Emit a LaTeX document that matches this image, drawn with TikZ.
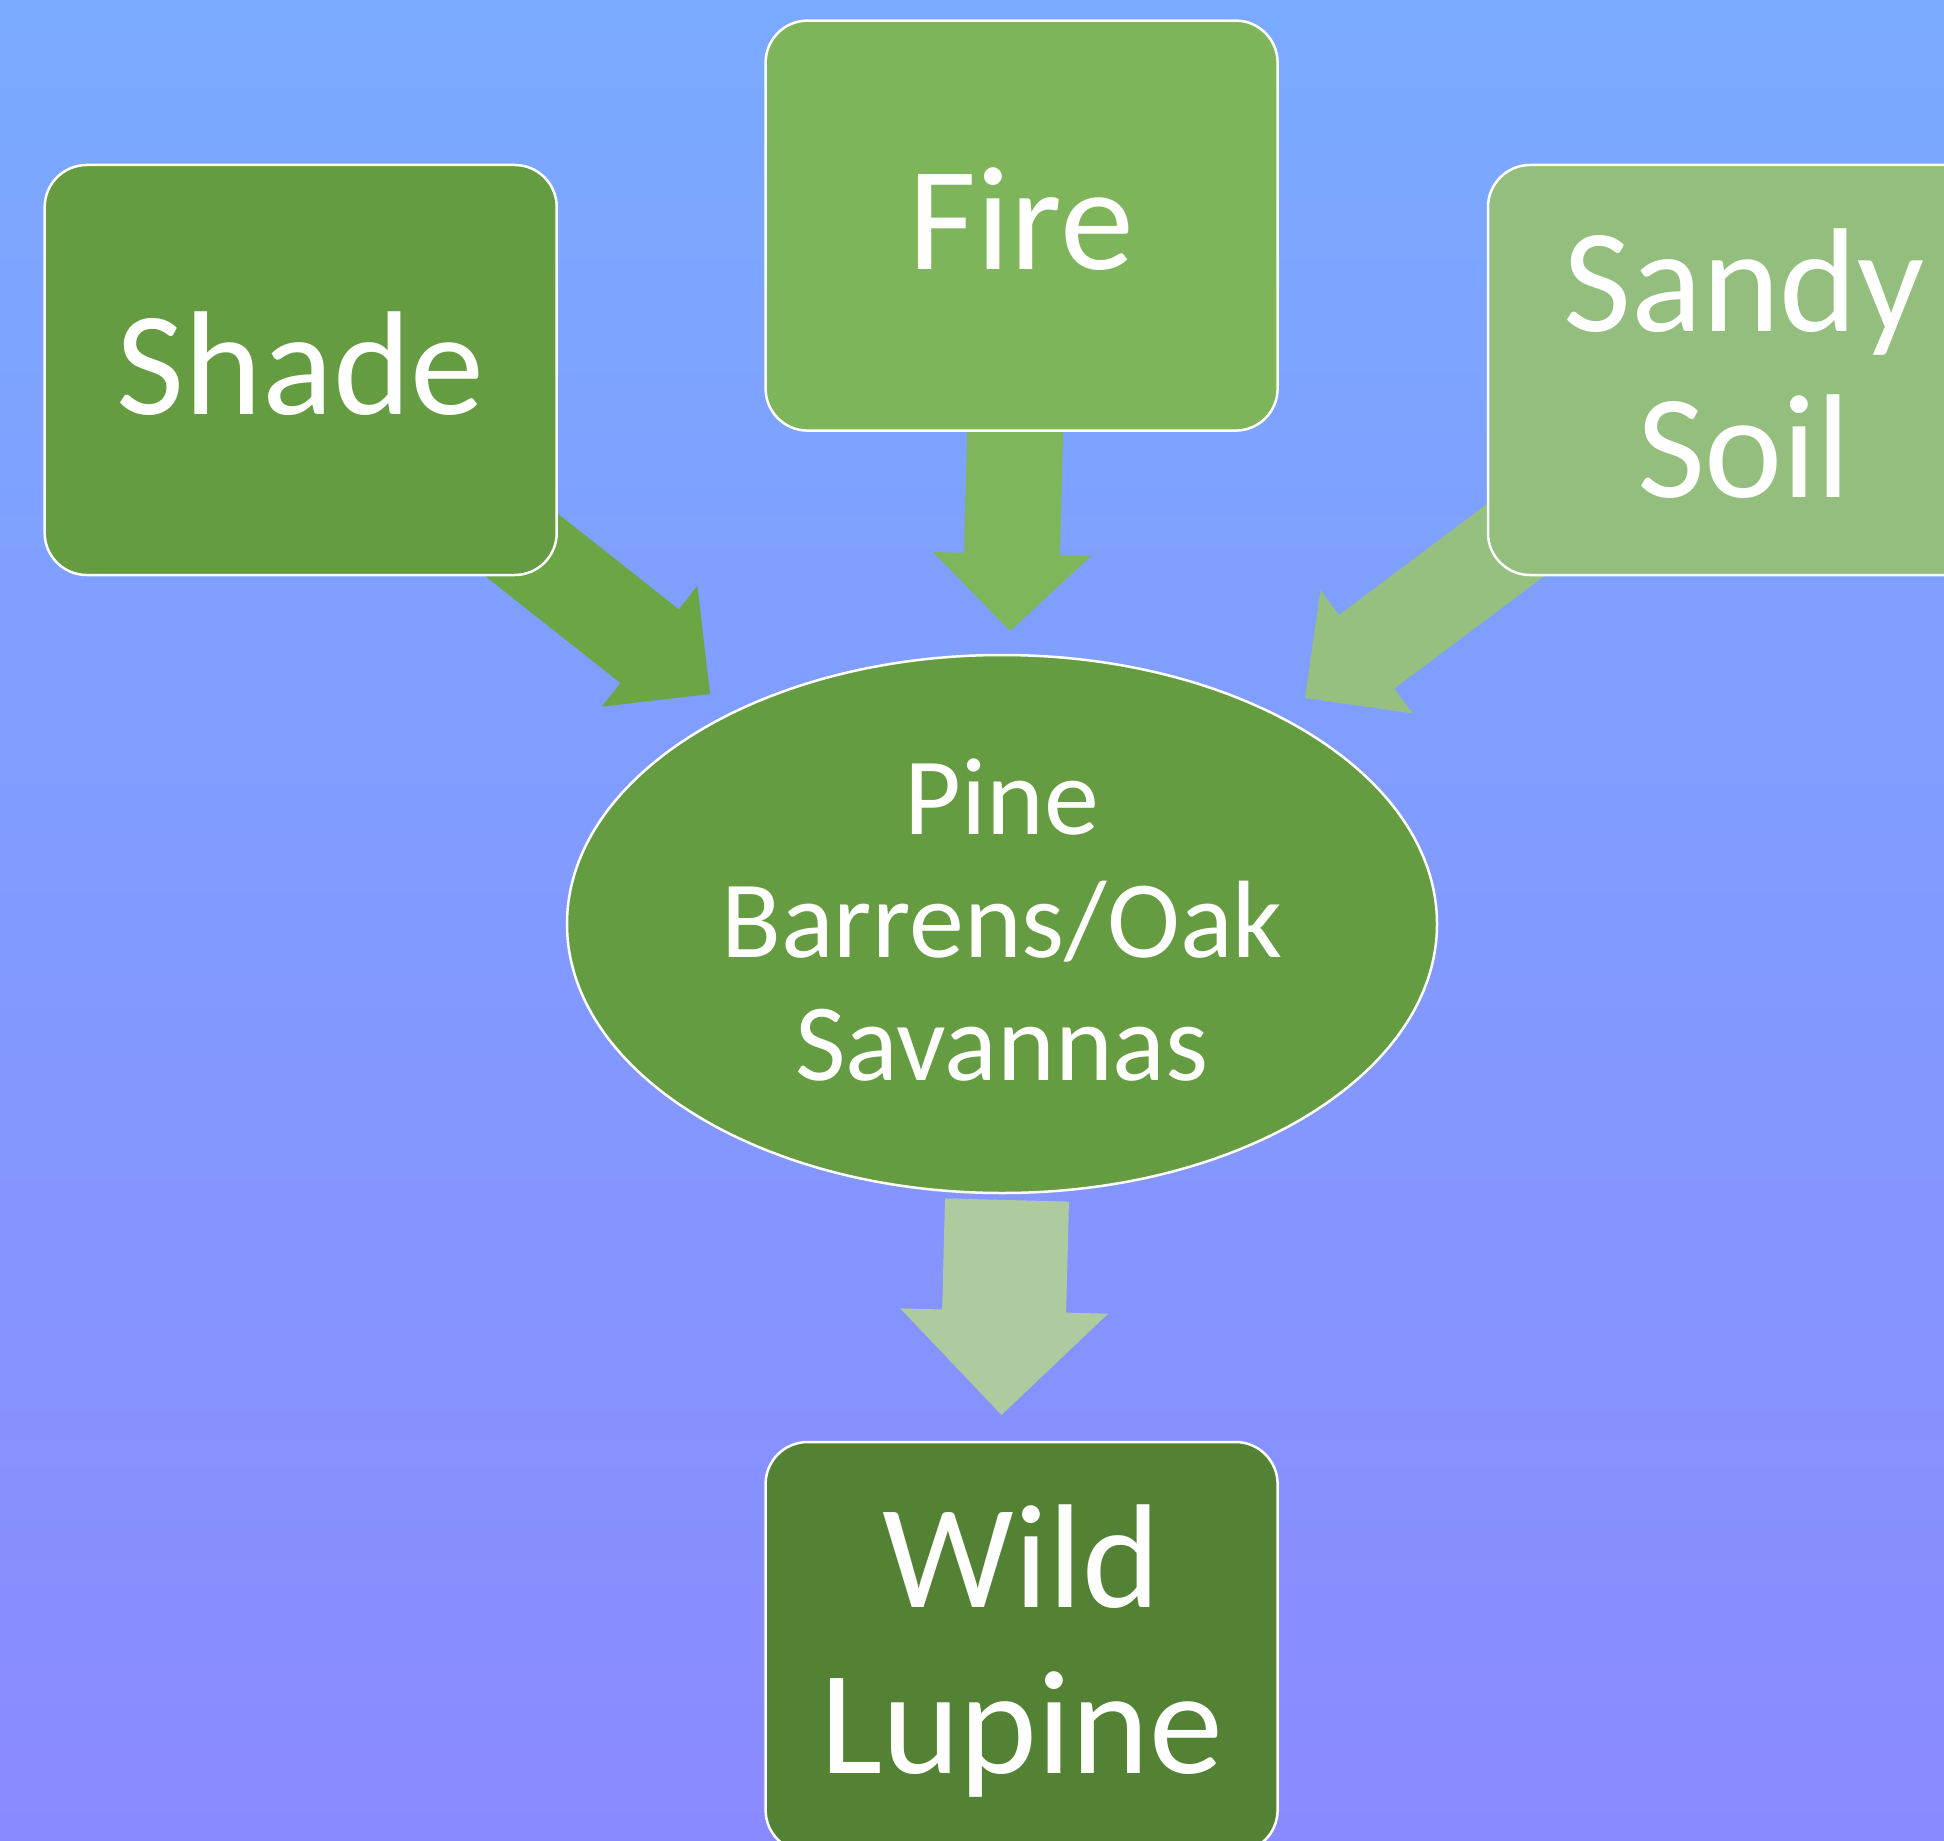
\documentclass[tikz,border=0pt]{standalone}
\usepackage{fontspec}
\setmainfont{Carlito}
\usetikzlibrary{shapes.geometric,calc}
\definecolor{bgtop}{RGB}{122,170,255}
\definecolor{bgbot}{RGB}{138,138,255}
\definecolor{shadefill}{RGB}{102,156,65}
\definecolor{firefill}{RGB}{127,181,90}
\definecolor{sandyfill}{RGB}{147,190,126}
\definecolor{wildfill}{RGB}{84,130,53}
\definecolor{shadearrow}{RGB}{108,165,68}
\definecolor{firearrow}{RGB}{127,182,92}
\definecolor{sandyarrow}{RGB}{150,192,128}
\definecolor{lowarrow}{RGB}{173,203,158}
% extra depth under a line of text (shifts the text up inside its shape)
\newcommand{\xdepth}[2]{\raisebox{0pt}[\height][\dimexpr\depth+#1\relax]{#2}}
\newcommand{\blockarrow}[6]{% #1 colour, #2 tail, #3 tip, #4 half shaft, #5 half head, #6 head length
  \coordinate (bab) at ($(#3)!#6!(#2)$);
  \fill[#1] ($(#2)!#4!90:(#3)$) -- ($(bab)!#4!90:(#3)$) -- ($(bab)!#5!90:(#3)$) -- (#3)
    -- ($(bab)!#5!-90:(#3)$) -- ($(bab)!#4!-90:(#3)$) -- ($(#2)!#4!-90:(#3)$) -- cycle;}
\begin{document}
\begin{tikzpicture}[x=1pt,y=-1pt,
  box/.style={rectangle, rounded corners=42pt, minimum width=512pt, minimum height=410pt,
    draw=white, line width=2.5pt, text=white, inner sep=0pt, align=center,
    font=\fontsize{148}{166}\selectfont},
  oval/.style={ellipse, minimum width=870pt, minimum height=538pt, draw=white, line width=2.5pt,
    text=white, inner sep=0pt, align=center, font=\fontsize{110}{123}\selectfont}]
\useasboundingbox (0,0) rectangle (1944,1841);
\clip (0,0) rectangle (1944,1841);
\shade[top color=bgtop, bottom color=bgbot] (0,0) rectangle (1944,1841);
% arrow end points
\coordinate (shadeTail) at (485,516);
\coordinate (shadeTip) at (710,694);
\coordinate (fireTail) at (1016,400);
\coordinate (fireTip) at (1010,631);
\coordinate (sandyTail) at (1569,500);
\coordinate (sandyTip) at (1305,698);
\coordinate (pineTail) at (1007,1200);
\coordinate (pineTip) at (1001.5,1415);
\blockarrow{shadearrow}{shadeTail}{shadeTip}{47pt}{77pt}{77pt}
\blockarrow{firearrow}{fireTail}{fireTip}{48pt}{79pt}{77pt}
\blockarrow{sandyarrow}{sandyTail}{sandyTip}{46pt}{77pt}{77pt}
\blockarrow{lowarrow}{pineTail}{pineTip}{62pt}{104pt}{104pt}
% boxes
\node[box, fill=shadefill] (shade) at (300.7,370) {\xdepth{12pt}{Shade}};
\node[box, fill=firefill] (fire) at (1021.6,225.6) {\xdepth{14pt}{Fire}};
\node[box, fill=sandyfill] (sandy) at (1744,370) {Sandy\\\xdepth{12pt}{Soil}};
\node[box, fill=wildfill] (wild) at (1021.6,1647) {Wild\\\xdepth{-8pt}{Lupine}};
\node[oval, fill=shadefill] (pine) at (1002,924) {Pine\\Barrens/Oak\\\xdepth{8pt}{Savannas}};
\end{tikzpicture}
\end{document}
